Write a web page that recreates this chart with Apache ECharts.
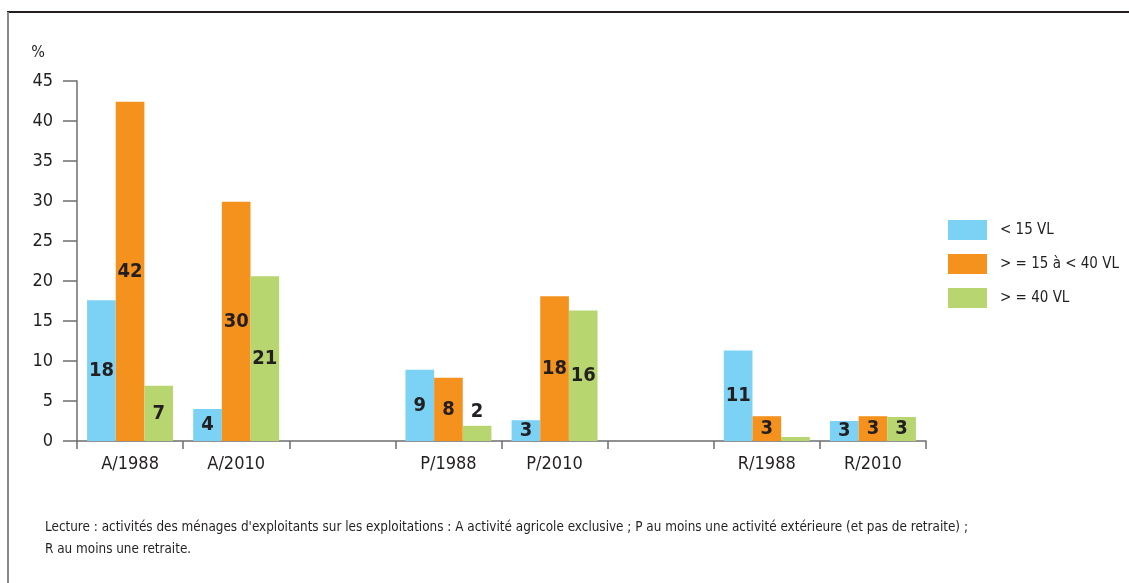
<!DOCTYPE html>
<html><head><meta charset="utf-8">
<script src="https://cdn.jsdelivr.net/npm/echarts@6/dist/echarts.min.js"></script>
<style>html,body{margin:0;padding:0;background:#fff}#c{width:1129px;height:583px}</style>
</head><body><div id="c"></div>
<script>
var categories = ['A/1988', 'A/2010', '', 'P/1988', 'P/2010', '', 'R/1988', 'R/2010'];
var seriesNames = ['< 15 VL', '> = 15 à < 40 VL', '> = 40 VL'];
var lt15 = [17.6, 4.0, '-', 8.9, 2.6, '-', 11.3, 2.5];
var mid = [42.4, 29.9, '-', 7.9, 18.1, '-', 3.1, 3.1];
var ge40 = [6.9, 20.6, '-', 1.9, 16.3, '-', 0.5, 3.0];
var yTicks = {min: 0, max: 45, interval: 5};
var note1 = "Lecture : activités des ménages d'exploitants sur les exploitations : A activité agricole exclusive ; P au moins une activité extérieure (et pas de retraite) ;";
var note2 = "R au moins une retraite.";

var FONT = "'DejaVu Sans Condensed', 'Liberation Sans Narrow', sans-serif";
var TXT = '#231f20';
var AX = '#6d6e71';
var colors = ['#7bd2f5', '#f5921e', '#b7d670'];

function items(arr) {
  return arr.map(function (v) {
    if (v === '-') return v;
    return {value: v, label: {position: v < 2.2 ? 'top' : 'inside', show: v >= 1}};
  });
}
function mk(name, arr, i) {
  return {
    name: name, type: 'bar', data: items(arr), barGap: '0%', barCategoryGap: '19%',
    itemStyle: {color: colors[i]},
    label: {show: true, formatter: function (p) { return Math.round(p.value); },
      color: TXT, fontFamily: FONT, fontWeight: 'bold', fontSize: 20, distance: 4}
  };
}
var chart = echarts.init(document.getElementById('c'), null, {renderer: 'canvas'});
chart.setOption({
  animation: false,
  backgroundColor: '#fff',
  textStyle: {fontFamily: FONT, color: TXT},
  grid: {left: 77, right: 203, top: 81, bottom: 142, containLabel: false},
  legend: {
    orient: 'vertical', left: 948, top: 220, padding: 0, itemWidth: 39, itemHeight: 20, itemGap: 14,
    icon: 'rect', textStyle: {fontFamily: FONT, fontSize: 15, color: TXT, padding: [0, 0, 0, 8]},
    data: seriesNames
  },
  xAxis: {
    type: 'category', data: categories,
    axisLine: {lineStyle: {color: AX, width: 1.5}},
    axisTick: {show: true, length: 8, lineStyle: {color: AX, width: 1.5}, interval: 0},
    axisLabel: {interval: 0, margin: 14, fontFamily: FONT, fontSize: 18, color: TXT}
  },
  yAxis: {
    type: 'value', min: yTicks.min, max: yTicks.max, interval: yTicks.interval,
    name: '%', nameLocation: 'end', nameGap: 20,
    nameTextStyle: {align: 'right', padding: [0, 32, 0, 0], fontFamily: FONT, fontSize: 16, color: TXT},
    axisLine: {show: true, lineStyle: {color: AX, width: 1.5}},
    axisTick: {show: true, length: 14, lineStyle: {color: AX, width: 1.5}},
    splitLine: {show: false},
    axisLabel: {margin: 24, fontFamily: FONT, fontSize: 18, color: TXT}
  },
  series: [mk(seriesNames[0], lt15, 0), mk(seriesNames[1], mid, 1), mk(seriesNames[2], ge40, 2)],
  graphic: [
    {type: 'line', shape: {x1: 7, y1: 12, x2: 1129, y2: 12}, style: {stroke: '#231f20', lineWidth: 2}},
    {type: 'line', shape: {x1: 8, y1: 12, x2: 8, y2: 583}, style: {stroke: '#8a8a8a', lineWidth: 2}},
    {type: 'text', left: 45, top: 521, style: {text: note1, font: '13.4px ' + FONT, fill: TXT}},
    {type: 'text', left: 45, top: 543, style: {text: note2, font: '13.4px ' + FONT, fill: TXT}}
  ]
});
</script></body></html>
